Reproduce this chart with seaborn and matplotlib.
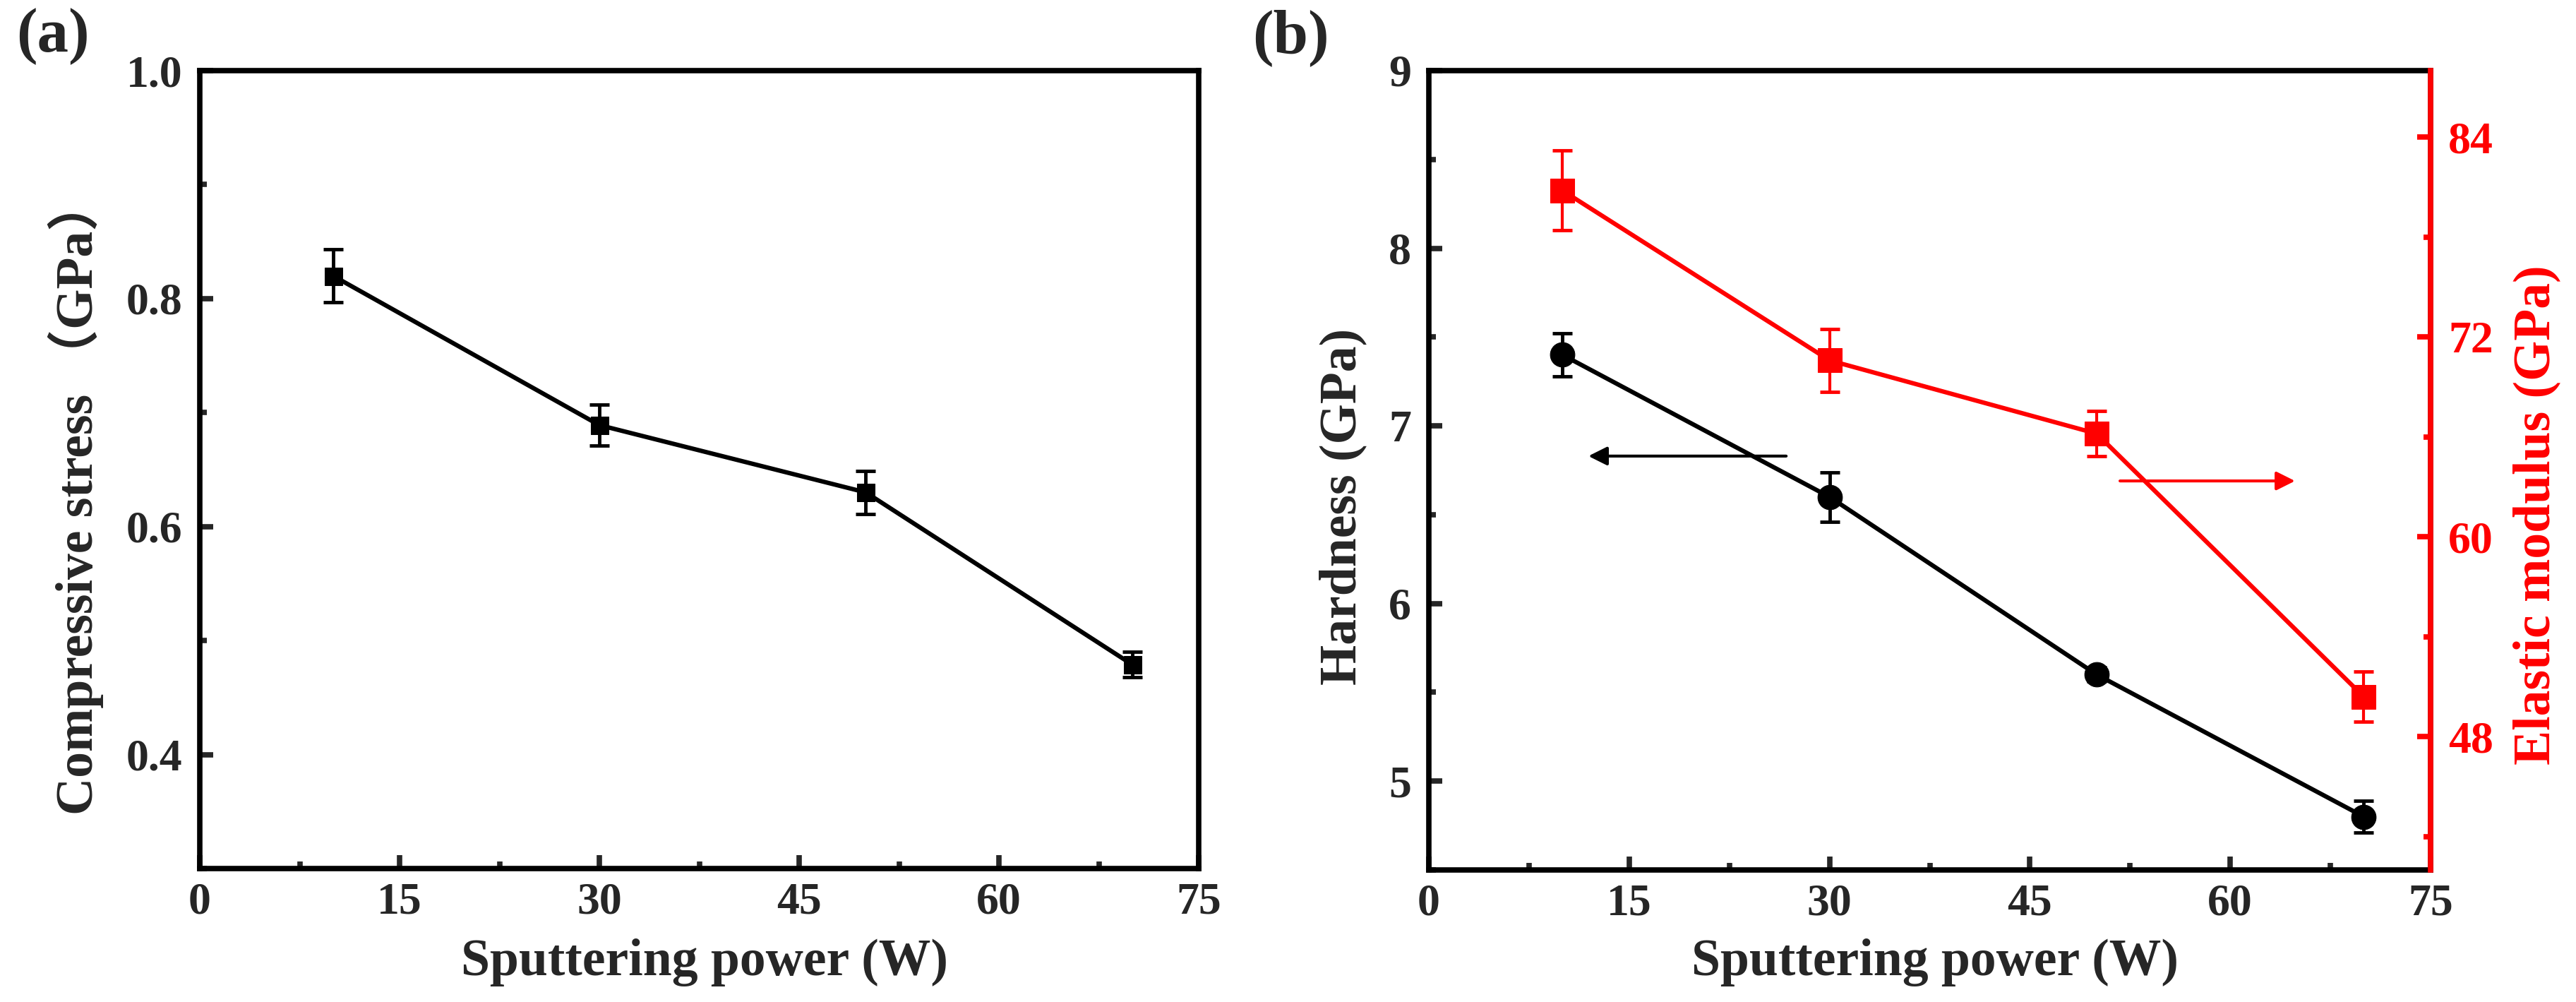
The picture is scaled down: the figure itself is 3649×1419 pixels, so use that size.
import numpy as np
import pandas as pd
import matplotlib
matplotlib.use('Agg')
import matplotlib.pyplot as plt
import seaborn as sns
from matplotlib.ticker import MultipleLocator

# data
power = [10, 30, 50, 70]
stress = [0.820, 0.689, 0.630, 0.479]
stress_err = [0.023, 0.018, 0.019, 0.011]
hardness = [7.40, 6.60, 5.60, 4.80]
hardness_err = [0.12, 0.14, 0.04, 0.09]
modulus = [80.8, 70.6, 66.2, 50.4]
modulus_err = [2.4, 1.9, 1.35, 1.5]

sns.set_theme(style='ticks')
plt.rcParams['font.family'] = ['Liberation Serif', 'Noto Sans CJK SC', 'DejaVu Sans']
plt.rcParams['font.weight'] = 'bold'
plt.rcParams['axes.labelweight'] = 'bold'

df_a = pd.DataFrame({'power': power, 'stress': stress})
df_b = pd.DataFrame({'power': power, 'hardness': hardness, 'modulus': modulus})

W, H = 3649, 1419
fig = plt.figure(figsize=(W / 100, H / 100), dpi=100)
ax1 = fig.add_axes([283 / W, 1 - 1230 / H, (1698 - 283) / W, (1230 - 100) / H])
ax2 = fig.add_axes([2024 / W, 1 - 1232 / H, (3443 - 2024) / W, (1232 - 100) / H])
ax3 = ax2.twinx()

tick_fs = 46
label_fs = 53
red = '#FF0000'
spine_w = 5.5


def style_axis(ax, xlab_y):
    for s in ax.spines.values():
        s.set_linewidth(spine_w)
        s.set_color('black')
    ax.tick_params(axis='both', which='major', direction='in', length=14, width=spine_w,
                   labelsize=tick_fs, pad=18, top=False, right=False)
    ax.tick_params(axis='both', which='minor', direction='in', length=7, width=spine_w,
                   top=False, right=False)
    ax.tick_params(axis='x', which='major', pad=14)
    ax.set_xlim(0, 75)
    ax.xaxis.set_major_locator(MultipleLocator(15))
    ax.xaxis.set_minor_locator(MultipleLocator(7.5))
    ax.set_xlabel('Sputtering power (W)', fontsize=label_fs, fontweight='bold')
    ax.xaxis.label.set_va('baseline')
    ax.xaxis.set_label_coords(0.505, xlab_y)


def place_ylabel(ax, x, y):
    ax.yaxis.set_label_coords(x, y)
    ax.yaxis.label.set_va('center')
    ax.yaxis.label.set_ha('center')


# (a) compressive stress
sns.lineplot(data=df_a, x='power', y='stress', ax=ax1, color='black', lw=4.5,
             marker='s', markersize=18, markeredgecolor='black', zorder=3)
ax1.errorbar(power, stress, yerr=stress_err, fmt='none', ecolor='black',
             elinewidth=3.5, capsize=10, capthick=3.5, zorder=2)
style_axis(ax1, -0.1336)
ax1.set_ylim(0.3, 1.0)
ax1.yaxis.set_minor_locator(MultipleLocator(0.1))
ax1.set_yticks([0.4, 0.6, 0.8, 1.0])
ax1.set_yticklabels(['0.4', '0.6', '0.8', '1.0'])
ax1.set_ylabel('Compressive stress （GPa）', fontsize=label_fs, fontweight='bold')
place_ylabel(ax1, -0.124, 0.466)

# (b) hardness and elastic modulus
sns.lineplot(data=df_b, x='power', y='hardness', ax=ax2, color='black', lw=4.5,
             marker='o', markersize=25, markeredgecolor='black', zorder=3)
ax2.errorbar(power, hardness, yerr=hardness_err, fmt='none', ecolor='black',
             elinewidth=3.5, capsize=10, capthick=3.5, zorder=2)
style_axis(ax2, -0.1316)
ax2.set_ylim(4.5, 9)
ax2.yaxis.set_major_locator(MultipleLocator(1))
ax2.yaxis.set_minor_locator(MultipleLocator(0.5))
ax2.set_ylabel('Hardness (GPa)', fontsize=label_fs, fontweight='bold')
place_ylabel(ax2, -0.086, 0.455)

sns.lineplot(data=df_b, x='power', y='modulus', ax=ax3, color=red, lw=4.5,
             marker='s', markersize=24, markeredgecolor=red, zorder=3)
ax3.errorbar(power, modulus, yerr=modulus_err, fmt='none', ecolor=red,
             elinewidth=3, capsize=10, capthick=3.5, zorder=2)
ax3.set_ylim(40, 88)
ax3.set_xlim(0, 75)
ax3.yaxis.set_major_locator(MultipleLocator(12))
ax3.yaxis.set_minor_locator(MultipleLocator(6))
for s in ax3.spines.values():
    s.set_linewidth(spine_w)
ax3.spines['left'].set_visible(False)
ax3.spines['top'].set_visible(False)
ax3.spines['bottom'].set_visible(False)
ax3.spines['right'].set_color(red)
ax3.tick_params(axis='y', which='major', direction='in', length=14, width=spine_w,
                labelsize=tick_fs, pad=18, colors=red)
ax3.tick_params(axis='y', which='minor', direction='in', length=7, width=spine_w, colors=red)
ax3.set_ylabel('Elastic modulus (GPa)', fontsize=label_fs, fontweight='bold', color=red)
place_ylabel(ax3, 1.106, 0.444)
ax3.set_xlabel('')

# arrows pointing at the matching axis
ax2.annotate('', xy=(11.8, 6.83), xytext=(26.9, 6.83),
             arrowprops=dict(arrowstyle='-|>', color='black', lw=3, mutation_scale=40))
ax2.annotate('', xy=(65.0, 6.69), xytext=(51.6, 6.69),
             arrowprops=dict(arrowstyle='-|>', color=red, lw=3, mutation_scale=40))

fig.text(75 / W, 1 - 52 / H, '(a)', fontsize=64, fontweight='bold', ha='center', va='center')
fig.text(1828 / W, 1 - 54 / H, '(b)', fontsize=64, fontweight='bold', ha='center', va='center')

fig.savefig('out.png', dpi=100, facecolor='white')
